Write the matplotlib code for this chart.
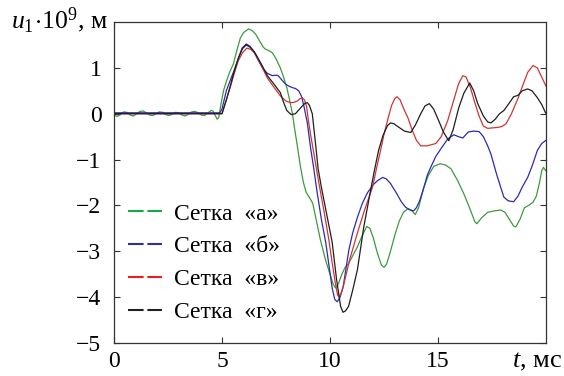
import matplotlib
matplotlib.use("Agg")
import matplotlib.pyplot as plt
from matplotlib.lines import Line2D

plt.rcParams['font.family'] = ['Liberation Serif', 'DejaVu Serif']
plt.rcParams['mathtext.fontset'] = 'custom'
plt.rcParams['mathtext.rm'] = 'Liberation Serif'
plt.rcParams['mathtext.it'] = 'Liberation Serif:italic'
plt.rcParams['axes.unicode_minus'] = True

# ---- data ----
t_a = [0, 0.15, 0.3, 0.45, 0.6, 0.75, 0.9, 1.05, 1.2, 1.35, 1.5, 1.65, 1.8, 1.95, 2.1, 2.25, 2.4,
       2.55, 2.7, 2.85, 3.0, 3.15, 3.3, 3.45, 3.6, 3.75, 3.9, 4.05, 4.2, 4.35, 4.5, 4.58, 4.7,
       4.78, 4.85, 4.95, 5.07, 5.2, 5.35, 5.53, 5.7, 5.85, 6.0, 6.23, 6.4, 6.55, 6.75, 6.9, 7.0,
       7.15, 7.33, 7.5, 7.7, 7.85, 8.0, 8.13, 8.26, 8.38, 8.5, 8.63, 8.77, 8.9, 9.05, 9.2, 9.4,
       9.56, 9.8, 10.0, 10.15, 10.25, 10.38, 10.55, 10.7, 10.86, 11.05, 11.27, 11.5, 11.7, 11.85,
       12.0, 12.2, 12.38, 12.5, 12.62, 12.8, 13.0, 13.2, 13.4, 13.6, 13.75, 13.95, 14.1, 14.35,
       14.55, 14.8, 15.1, 15.35, 15.6, 15.9, 16.2, 16.5, 16.7, 16.8, 17.0, 17.3, 17.6, 17.9, 18.1,
       18.3, 18.5, 18.6, 18.8, 19.0, 19.2, 19.4, 19.55, 19.7, 19.8, 19.88, 20]
u_a = [-0.03, -0.06, -0.02, 0.04, 0.03, -0.03, -0.05, 0.0, 0.05, 0.06, 0.02, -0.03, -0.04, 0.0,
       0.04, 0.03, -0.02, -0.04, -0.01, 0.03, 0.02, -0.03, -0.05, -0.01, 0.04, 0.05, 0.02, -0.03,
       -0.04, 0.02, 0.07, 0.06, -0.05, -0.12, -0.08, 0.2, 0.5, 0.7, 0.9, 1.09, 1.4, 1.65, 1.77,
       1.85, 1.81, 1.74, 1.58, 1.46, 1.41, 1.38, 1.33, 1.2, 1.0, 0.8, 0.57, 0.3, 0.0, -0.38,
       -0.74, -1.15, -1.5, -1.72, -1.83, -1.95, -2.4, -2.76, -3.2, -3.5, -3.72, -3.8, -3.72,
       -3.5, -3.35, -3.27, -3.1, -2.9, -2.65, -2.46, -2.5, -2.7, -3.05, -3.3, -3.35, -3.28, -3.0,
       -2.65, -2.35, -2.15, -2.07, -2.1, -2.2, -2.05, -1.6, -1.35, -1.15, -1.09, -1.12, -1.2,
       -1.45, -1.75, -2.1, -2.35, -2.4, -2.28, -2.15, -2.12, -2.1, -2.15, -2.3, -2.45, -2.47,
       -2.3, -2.05, -2.0, -1.93, -1.8, -1.5, -1.25, -1.17, -1.25]

t_b = [0, 4.9, 5.0, 5.2, 5.4, 5.55, 5.75, 5.93, 6.12, 6.3, 6.45, 6.7, 6.9, 7.1, 7.33, 7.5, 7.6,
       7.8, 7.93, 8.1, 8.25, 8.4, 8.55, 8.68, 8.8, 8.95, 9.1, 9.25, 9.4, 9.6, 9.8, 9.95, 10.1,
       10.22, 10.33, 10.45, 10.6, 10.75, 10.87, 11.05, 11.27, 11.5, 11.74, 12.0, 12.2, 12.44,
       12.6, 12.8, 13.1, 13.3, 13.5, 13.7, 13.87, 14.0, 14.15, 14.35, 14.5, 14.66, 14.9, 15.2,
       15.45, 15.73, 15.95, 16.15, 16.3, 16.4, 16.65, 16.9, 17.1, 17.3, 17.45, 17.7, 17.9, 18.05,
       18.25, 18.5, 18.7, 18.9, 19.15, 19.35, 19.6, 19.8, 20]
u_b = [0.02, 0.02, 0.1, 0.5, 0.75, 0.93, 1.2, 1.43, 1.52, 1.47, 1.37, 1.15, 0.98, 0.88, 0.83,
       0.84, 0.83, 0.72, 0.65, 0.6, 0.57, 0.55, 0.5, 0.38, 0.15, -0.2, -0.74, -1.2, -1.7, -2.3,
       -2.8, -3.3, -3.8, -4.05, -4.1, -4.02, -3.8, -3.35, -2.98, -2.6, -2.26, -1.95, -1.72,
       -1.55, -1.46, -1.39, -1.42, -1.52, -1.75, -1.92, -2.04, -2.1, -2.12, -2.05, -1.9, -1.6,
       -1.35, -1.17, -0.93, -0.72, -0.55, -0.46, -0.5, -0.53, -0.45, -0.4, -0.38, -0.39, -0.5,
       -0.7, -0.88, -1.3, -1.6, -1.82, -1.9, -1.92, -1.8, -1.6, -1.39, -1.15, -0.8, -0.65, -0.58]

t_v = [0, 5.0, 5.2, 5.38, 5.55, 5.75, 5.95, 6.15, 6.35, 6.55, 6.8, 7.1, 7.4, 7.7, 7.95, 8.17,
       8.35, 8.5, 8.62, 8.72, 8.82, 8.92, 9.0, 9.1, 9.3, 9.5, 9.75, 9.95, 10.1, 10.25, 10.35,
       10.42, 10.5, 10.63, 10.9, 11.27, 11.6, 11.97, 12.15, 12.34, 12.5, 12.66, 12.85, 13.0,
       13.1, 13.25, 13.4, 13.6, 13.8, 14.0, 14.2, 14.5, 14.9, 15.15, 15.45, 15.7, 15.95, 16.15,
       16.3, 16.5, 16.7, 16.9, 17.1, 17.3, 17.5, 17.75, 17.95, 18.15, 18.4, 18.7, 18.95, 19.15,
       19.4, 19.6, 19.8, 20]
u_v = [0.0, 0.0, 0.3, 0.57, 0.85, 1.15, 1.33, 1.43, 1.4, 1.3, 1.07, 0.78, 0.58, 0.39, 0.28,
       0.24, 0.25, 0.28, 0.33, 0.35, 0.3, 0.15, -0.15, -0.45, -1.0, -1.55, -2.2, -2.76, -3.25,
       -3.7, -3.95, -4.0, -3.93, -3.74, -3.2, -2.6, -2.1, -1.6, -1.2, -0.8, -0.45, -0.15, 0.18,
       0.33, 0.37, 0.3, 0.12, -0.08, -0.35, -0.58, -0.7, -0.7, -0.65, -0.5, -0.15, 0.25, 0.65,
       0.83, 0.8, 0.57, 0.25, -0.05, -0.27, -0.32, -0.31, -0.3, -0.28, -0.22, 0.0, 0.33, 0.65,
       0.9, 1.05, 1.0, 0.8, 0.6]

t_g = [0, 5.0, 5.2, 5.38, 5.55, 5.75, 5.95, 6.12, 6.3, 6.5, 6.8, 7.1, 7.4, 7.7, 7.85, 8.0, 8.2,
       8.4, 8.55, 8.72, 8.85, 8.95, 9.05, 9.18, 9.33, 9.45, 9.6, 9.85, 10.1, 10.3, 10.49, 10.6,
       10.72, 10.86, 11.05, 11.27, 11.56, 11.88, 12.05, 12.25, 12.45, 12.66, 12.8, 12.96, 13.2,
       13.45, 13.74, 13.95, 14.2, 14.4, 14.6, 14.8, 15.03, 15.25, 15.5, 15.7, 15.96, 16.2, 16.47,
       16.65, 16.84, 17.1, 17.3, 17.45, 17.65, 17.85, 18.05, 18.25, 18.5, 18.7, 18.9, 19.15,
       19.35, 19.6, 19.8, 20]
u_g = [0.0, 0.0, 0.3, 0.6, 0.9, 1.2, 1.42, 1.5, 1.45, 1.35, 1.1, 0.83, 0.65, 0.46, 0.25, 0.07,
       -0.02, 0.0, 0.08, 0.17, 0.23, 0.24, 0.18, 0.0, -0.65, -1.2, -1.6, -2.2, -2.8, -3.6, -4.2,
       -4.33, -4.3, -4.2, -3.85, -3.4, -2.48, -1.67, -1.25, -0.8, -0.48, -0.26, -0.2, -0.22,
       -0.3, -0.38, -0.41, -0.25, 0.0, 0.17, 0.22, 0.1, -0.15, -0.4, -0.59, -0.35, 0.13, 0.45,
       0.67, 0.5, 0.22, -0.05, -0.18, -0.2, -0.12, 0.0, 0.07, 0.2, 0.37, 0.4, 0.5, 0.54, 0.5,
       0.35, 0.2, 0.0]

labels = ['Сетка  «а»', 'Сетка  «б»', 'Сетка  «в»', 'Сетка  «г»']
curve_colors = ['#3d9a3d', '#2a2ab8', '#d23434', '#1e1e1e']
legend_colors = ['#16a84a', '#2e3192', '#ec1c24', '#231f20']

x_ticks = [0, 5, 10, 15]
y_ticks = [-5, -4, -3, -2, -1, 0, 1]

fig = plt.figure(figsize=(5.64, 3.76), dpi=100)
ax = fig.add_axes([0.2021, 0.0878, 0.766, 0.8537])

series = [(t_a, u_a), (t_b, u_b), (t_v, u_v), (t_g, u_g)]
for (tt, uu), c in zip(series, curve_colors):
    ax.plot(tt, uu, color=c, lw=0.9, solid_joinstyle='round')

ax.set_xlim(0, 20)
ax.set_ylim(-5, 2)
ax.set_xticks(x_ticks)
ax.set_yticks(y_ticks)
ax.tick_params(direction='in', top=True, right=True, length=4, width=0.8,
               labelsize=17, color='#333333')
ax.tick_params(axis='x', pad=6)
ax.tick_params(axis='y', pad=9)
for s in ax.spines.values():
    s.set_color('#333333')
    s.set_linewidth(0.9)

handles = [Line2D([0], [0], color=c, lw=1.5, linestyle=(0, (7.5, 1.8))) for c in legend_colors]
leg = ax.legend(handles, labels, loc='upper left', bbox_to_anchor=(0.0, 0.48),
                frameon=False, fontsize=17, handlelength=1.45, handletextpad=0.5,
                labelspacing=0.48, borderaxespad=0.2)

fig.text(0.02, 0.925, r'$u_1\!\cdot\!10^9$, м', fontsize=18.5, ha='left', va='baseline')
fig.text(0.996, 0.022, r'$t$, мс', fontsize=19, ha='right', va='baseline')

fig.savefig('out.png', dpi=100)
